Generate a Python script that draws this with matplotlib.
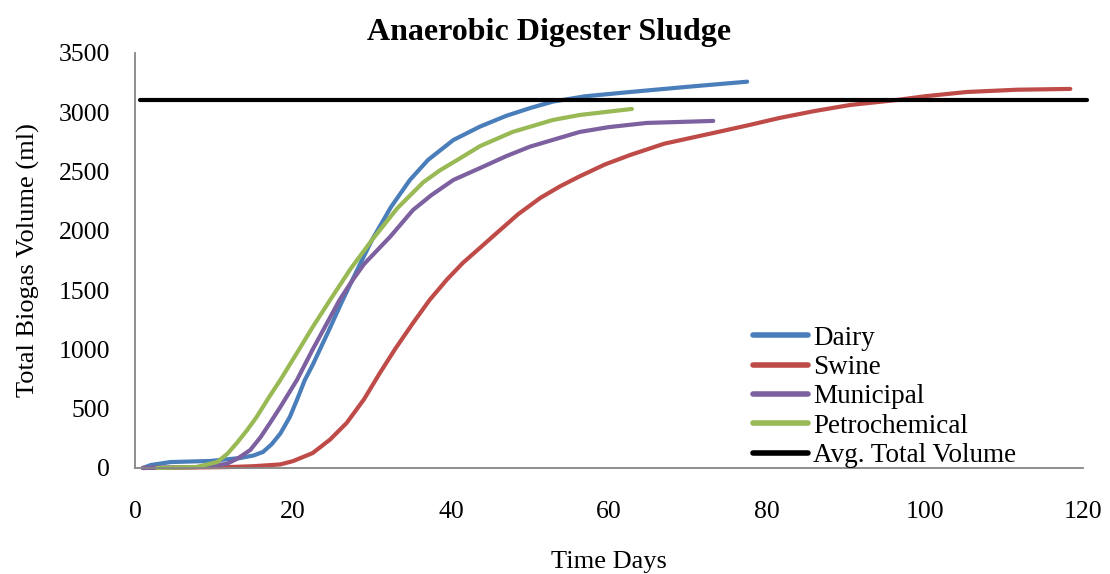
import matplotlib
matplotlib.use("Agg")
import matplotlib.pyplot as plt

plt.rcParams['font.family'] = ['Liberation Serif', 'DejaVu Serif']

# ---- data ----
dairy_days = [1, 2, 4.5, 9.5, 13.3, 15, 16.2, 17.3, 18.4, 19.6, 20.6, 21.5, 22.5,
              24.4, 26.3, 28.2, 30, 32.4, 34.8, 37.1, 40.3, 43.7, 47, 50, 52.9,
              57, 62.7, 70, 77.5]
dairy_ml = [0, 25, 50, 59, 84, 105, 135, 200, 290, 430, 590, 742, 870,
            1140, 1417, 1680, 1923, 2200, 2429, 2598, 2766, 2880, 2970, 3035, 3090,
            3135, 3171, 3215, 3258]

swine_days = [1, 6, 12, 15, 18.4, 20, 22.5, 24.7, 26.8, 29, 31, 33, 35.2, 37.3,
              39.5, 41.5, 43.7, 45.8, 48.5, 51.3, 53.8, 56.3, 59.5, 62.7, 67, 73.2,
              77.8, 81.6, 86, 90.5, 96.5, 100, 105.3, 111.6, 118.4]
swine_ml = [0, 3, 8, 15, 30, 58, 126, 240, 380, 580, 801, 1010, 1223, 1417,
            1590, 1729, 1858, 1982, 2140, 2277, 2375, 2460, 2560, 2640, 2735, 2825,
            2893, 2952, 3010, 3061, 3104, 3135, 3171, 3190, 3197]

muni_days = [1, 4, 7.8, 11.6, 13, 14.6, 15.9, 17.1, 18.4, 20.5, 22.5, 25.9, 27.5,
             29, 32.3, 35.2, 37.5, 40.3, 43.7, 47, 50, 56.3, 60, 64.8, 73.2]
muni_ml = [0, 5, 8, 34, 80, 152, 260, 380, 514, 742, 1000, 1417, 1580,
           1720, 1950, 2176, 2300, 2429, 2530, 2630, 2710, 2834, 2875, 2910, 2927]

petro_days = [2.8, 5, 7.8, 10.4, 11.7, 12.9, 14.2, 15.4, 16.9, 18.4, 20.5, 22.5,
              24.7, 27.3, 30, 33.2, 36.5, 38.6, 40.8, 43.7, 47.8, 52.9, 56.3, 62.9]
petro_ml = [0, 4, 8, 50, 120, 211, 320, 430, 590, 742, 970, 1189,
            1417, 1680, 1923, 2190, 2410, 2510, 2598, 2715, 2834, 2935, 2977, 3028]

avg_days = [0.6, 120.5]
avg_ml = [3100, 3100]

labels = ['Dairy', 'Swine', 'Municipal', 'Petrochemical', 'Avg. Total Volume']
colors = ['#4A7EBB', '#BE4B48', '#7D60A0', '#98B954', '#000000']

x_ticks = [0, 20, 40, 60, 80, 100, 120]
y_ticks = [0, 500, 1000, 1500, 2000, 2500, 3000, 3500]

# ---- figure ----
fig = plt.figure(figsize=(11.1, 5.74), dpi=100)
ax = fig.add_axes([0.1216, 0.1847, 0.854, 0.723])

series = [(dairy_days, dairy_ml), (swine_days, swine_ml), (muni_days, muni_ml),
          (petro_days, petro_ml), (avg_days, avg_ml)]
for (xd, yd), lab, col in zip(series, labels, colors):
    ax.plot(xd, yd, color=col, lw=3.0, label=lab, solid_capstyle='round',
            solid_joinstyle='round', clip_on=False)

ax.set_xlim(0, 120)
ax.set_ylim(0, 3500)
ax.set_xticks(x_ticks)
ax.set_yticks(y_ticks)
ax.tick_params(axis='both', length=0, labelsize=18.5)
ax.tick_params(axis='x', pad=24)
ax.tick_params(axis='y', pad=18)

for s in ['top', 'right']:
    ax.spines[s].set_visible(False)
for s in ['left', 'bottom']:
    ax.spines[s].set_color('#868686')
    ax.spines[s].set_linewidth(1.3)

fig.text(0.4946, 0.944, 'Anaerobic Digester Sludge', fontsize=23,
         fontweight='bold', ha='center', va='center')
ax.set_xlabel('Time Days', fontsize=19, labelpad=20)
ax.set_ylabel('Total Biogas Volume (ml)', fontsize=19, labelpad=13)

leg = ax.legend(loc='lower left', bbox_to_anchor=(0.652, 0.0), frameon=False,
                fontsize=19.5, handlelength=2.03, handletextpad=0.2,
                labelspacing=0.16, borderaxespad=0, borderpad=0)
for line in leg.get_lines():
    line.set_linewidth(4.0)

fig.savefig('out.png', dpi=100)
